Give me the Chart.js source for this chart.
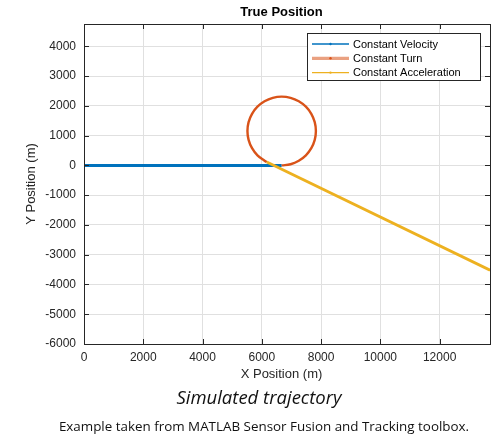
<!DOCTYPE html>
<html>
<head>
<meta charset="utf-8">
<script src="https://cdn.jsdelivr.net/npm/chart.js@4.4.1/dist/chart.umd.min.js"></script>
<style>
html,body{margin:0;padding:0;background:#fff;}
#wrap{position:relative;width:499px;height:439px;overflow:hidden;background:#fff;}
#c{position:absolute;left:0;top:0;}
.cap{position:absolute;white-space:nowrap;transform:translateX(-50%);color:#111;}
#cap1{left:259px;top:386px;font-family:"Open Sans",Lato,sans-serif;font-style:italic;font-size:18.5px;line-height:22px;}
#cap2{left:264px;top:418px;font-family:"Open Sans",Lato,sans-serif;font-size:13.4px;line-height:16px;}
</style>
</head>
<body>
<div id="wrap">
<canvas id="c" width="499" height="385"></canvas>
<div class="cap" id="cap1">Simulated trajectory</div>
<div class="cap" id="cap2">Example taken from MATLAB Sensor Fusion and Tracking toolbox.</div>
</div>
<script>
// ---- data ----
const seriesNames = ['Constant Velocity', 'Constant Turn', 'Constant Acceleration'];
const velocityX = [0, 6670];
const velocityY = [0, 0];
const turnX = [6670, 6969, 7248, 7487, 7670, 7786, 7825, 7786, 7670, 7487, 7248, 6969, 6670,
               6371, 6093, 5853, 5670, 5554, 5515, 5554, 5670, 5853, 6093, 6168];
const turnY = [0, 39, 155, 338, 578, 856, 1155, 1454, 1733, 1972, 2155, 2271, 2310,
               2271, 2155, 1972, 1733, 1454, 1155, 856, 578, 338, 155, 115];
const accelX = [6168, 13700];
const accelY = [115, -3520];
const xTicks = [0, 2000, 4000, 6000, 8000, 10000, 12000];
const yTicks = [-6000, -5000, -4000, -3000, -2000, -1000, 0, 1000, 2000, 3000, 4000];
const xRange = [0, 13700];
const yRange = [-6000, 4750];
const titleText = 'True Position';
const xLabel = 'X Position (m)';
const yLabel = 'Y Position (m)';

const colors = ['#0072BD', '#D95319', '#EDB120'];
const toPts = (xs, ys) => xs.map((x, i) => ({x: x, y: ys[i]}));
const FONT = '"Liberation Sans", Arial, Helvetica, sans-serif';
const AXC = '#262626';

const framePlugin = {
  id: 'matlabFrame',
  afterDraw(chart) {
    const ctx = chart.ctx;
    const a = chart.chartArea;
    const xs = chart.scales.x, ys = chart.scales.y;
    ctx.save();
    ctx.strokeStyle = AXC;
    ctx.lineWidth = 1;
    // box
    ctx.strokeRect(Math.round(a.left) + 0.5, Math.round(a.top) + 0.5,
                   Math.round(a.right - a.left), Math.round(a.bottom - a.top));
    // inward ticks
    const tl = 5;
    ctx.beginPath();
    xTicks.forEach(v => {
      const px = Math.round(xs.getPixelForValue(v)) + 0.5;
      ctx.moveTo(px, a.bottom); ctx.lineTo(px, a.bottom - tl);
      ctx.moveTo(px, a.top); ctx.lineTo(px, a.top + tl);
    });
    yTicks.forEach(v => {
      const py = Math.round(ys.getPixelForValue(v)) + 0.5;
      ctx.moveTo(a.left, py); ctx.lineTo(a.left + tl, py);
      ctx.moveTo(a.right, py); ctx.lineTo(a.right - tl, py);
    });
    ctx.stroke();
    // title & axis labels
    const cx = 281.5;
    ctx.fillStyle = '#000';
    ctx.textAlign = 'center';
    ctx.textBaseline = 'middle';
    ctx.font = 'bold 13px ' + FONT;
    ctx.fillText(titleText, cx, 12.5);
    ctx.fillStyle = AXC;
    ctx.font = '13px ' + FONT;
    ctx.fillText(xLabel, cx, 374);
    ctx.save();
    ctx.translate(31, (a.top + a.bottom) / 2);
    ctx.rotate(-Math.PI / 2);
    ctx.fillText(yLabel, 0, 0);
    ctx.restore();
    // legend
    const lx = 307.5, ly = 33.5, lw = 173, lh = 47;
    ctx.fillStyle = '#fff';
    ctx.fillRect(lx, ly, lw, lh);
    ctx.strokeStyle = AXC;
    ctx.strokeRect(lx, ly, lw, lh);
    const rows = [44, 58.3, 72.6];
    const lineW = [1.5, 3.2, 1.2];
    const lineC = ['#0072BD', 'rgba(217,83,25,0.55)', '#EDB120'];
    chart.data.datasets.forEach((ds, i) => {
      const y = rows[i];
      ctx.strokeStyle = lineC[i];
      ctx.lineWidth = lineW[i];
      ctx.beginPath();
      ctx.moveTo(312, y); ctx.lineTo(349, y);
      ctx.stroke();
      ctx.fillStyle = colors[i];
      ctx.beginPath();
      ctx.arc(330.5, y, 1.2, 0, Math.PI * 2);
      ctx.fill();
      ctx.fillStyle = '#000';
      ctx.font = '11px ' + FONT;
      ctx.textAlign = 'left';
      ctx.textBaseline = 'middle';
      ctx.fillText(ds.label, 353, y + 0.5);
    });
    ctx.restore();
  }
};

new Chart(document.getElementById('c'), {
  type: 'scatter',
  data: {
    datasets: [
      {label: seriesNames[0], data: toPts(velocityX, velocityY), showLine: true,
       borderColor: colors[0], backgroundColor: colors[0], borderWidth: 3, pointRadius: 0, order: 3},
      {label: seriesNames[1], data: toPts(turnX, turnY), showLine: true, tension: 0.4,
       borderColor: colors[1], backgroundColor: colors[1], borderWidth: 2.4, pointRadius: 0, order: 2},
      {label: seriesNames[2], data: toPts(accelX, accelY), showLine: true,
       borderColor: colors[2], backgroundColor: colors[2], borderWidth: 2.8, pointRadius: 0, order: 1}
    ]
  },
  options: {
    responsive: false,
    animation: false,
    devicePixelRatio: 1,
    layout: {padding: {top: 24, right: 9, left: 0, bottom: 0}},
    plugins: {legend: {display: false}, title: {display: false}, tooltip: {enabled: false}},
    scales: {
      x: {
        type: 'linear', min: xRange[0], max: xRange[1],
        afterBuildTicks: s => { s.ticks = xTicks.map(v => ({value: v})); },
        afterFit: s => { s.height = 41; },
        ticks: {callback: v => String(v), font: {family: FONT, size: 12}, color: AXC,
                padding: 6, maxRotation: 0, autoSkip: false},
        grid: {color: '#e0e0e0', drawTicks: false},
        border: {display: false}
      },
      y: {
        type: 'linear', min: yRange[0], max: yRange[1],
        afterBuildTicks: s => { s.ticks = yTicks.map(v => ({value: v})); },
        afterFit: s => { s.width = 84; },
        ticks: {callback: v => String(v), font: {family: FONT, size: 12}, color: AXC,
                padding: 8, autoSkip: false},
        grid: {color: '#e0e0e0', drawTicks: false},
        border: {display: false}
      }
    }
  },
  plugins: [framePlugin]
});
</script>
</body>
</html>
